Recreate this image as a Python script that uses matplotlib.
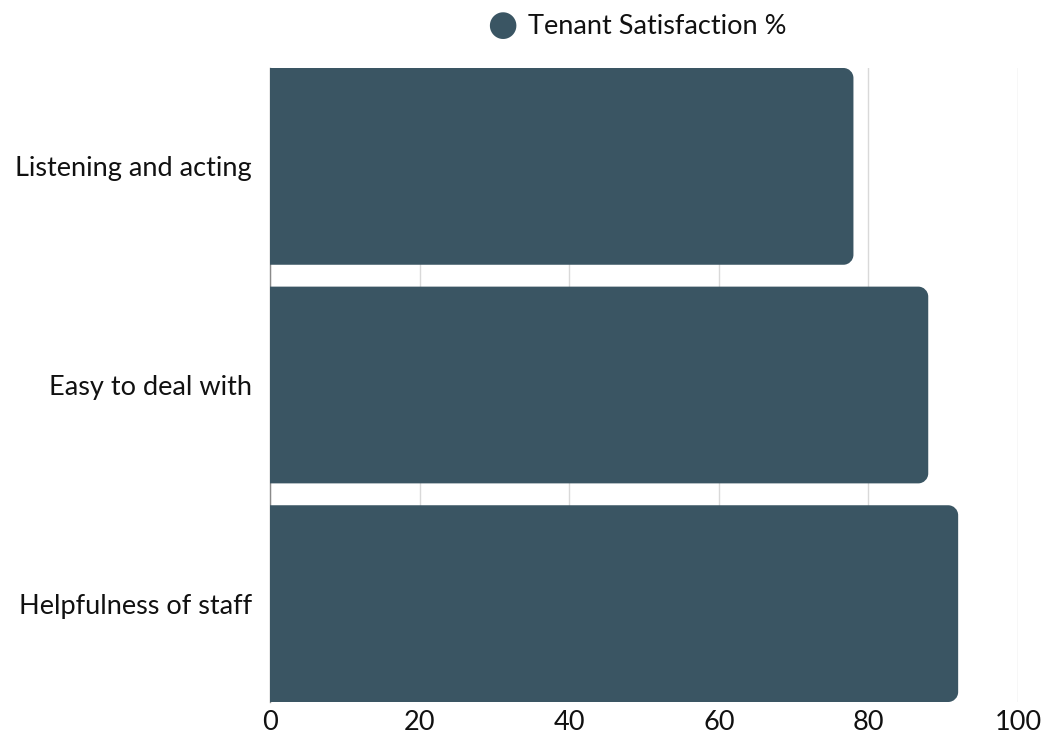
import matplotlib
matplotlib.use("Agg")
import matplotlib.pyplot as plt
from matplotlib.path import Path
from matplotlib.patches import PathPatch

categories = ["Listening and acting", "Easy to deal with", "Helpfulness of staff"]
values = [78, 88, 92]
series_name = "Tenant Satisfaction %"
xticks = [0, 20, 40, 60, 80, 100]

BAR_COLOR = "#3a5563"
plt.rcParams['font.family'] = ['Lato', 'DejaVu Sans']

W, H, DPI = 1045, 738, 100
fig = plt.figure(figsize=(W / DPI, H / DPI), dpi=DPI)
ax = fig.add_axes([270 / W, 1 - 702 / H, (1018 - 270) / W, (702 - 68) / H])

ypos = list(range(len(categories)))[::-1]
ax.set_xlim(0, 100)
ax.set_ylim(-0.45, 2.45)
bars = ax.barh(ypos, values, height=0.9, color=BAR_COLOR, zorder=3)

# rounded right corners
fig.canvas.draw()
px_x = ax.bbox.width / 100.0
px_y = ax.bbox.height / 2.9
r = 10.0
k = 0.5523
for b in bars:
    b.set_visible(False)
    x0, y0 = b.get_x(), b.get_y()
    x1, y1 = x0 + b.get_width(), y0 + b.get_height()
    rx, ry = r / px_x, r / px_y
    verts = [
        (x0, y0), (x1 - rx, y0),
        (x1 - rx + k * rx, y0), (x1, y0 + ry - k * ry), (x1, y0 + ry),
        (x1, y1 - ry),
        (x1, y1 - ry + k * ry), (x1 - rx + k * rx, y1), (x1 - rx, y1),
        (x0, y1), (x0, y0),
    ]
    codes = [Path.MOVETO, Path.LINETO,
             Path.CURVE4, Path.CURVE4, Path.CURVE4,
             Path.LINETO,
             Path.CURVE4, Path.CURVE4, Path.CURVE4,
             Path.LINETO, Path.CLOSEPOLY]
    ax.add_patch(PathPatch(Path(verts, codes), facecolor=BAR_COLOR,
                           edgecolor="none", zorder=3))

FS = 19.5
ax.set_xticks(xticks)
ax.set_xticklabels([str(t) for t in xticks], fontsize=FS, color="#111111")
ax.set_yticks(ypos)
ax.set_yticklabels(categories, fontsize=FS, color="#111111")
ax.tick_params(axis='both', length=0)
ax.tick_params(axis='x', pad=6)
ax.tick_params(axis='y', pad=13)
ax.grid(axis='x', color="#d9d9d9", linewidth=1, zorder=0)
ax.set_axisbelow(True)
for s in ["top", "right", "bottom"]:
    ax.spines[s].set_visible(False)
ax.spines["left"].set_color("#8a8a8a")
ax.spines["left"].set_linewidth(1)
ax.spines["left"].set_zorder(1)

# legend
fig.text(502 / W, 1 - 25 / H, "\u25CF", fontsize=25, color=BAR_COLOR,
         ha="center", va="center", family="DejaVu Sans")
fig.text(528 / W, 1 - 26 / H, series_name, fontsize=FS, color="#111111",
         ha="left", va="center")

fig.savefig("out.png", dpi=DPI)
